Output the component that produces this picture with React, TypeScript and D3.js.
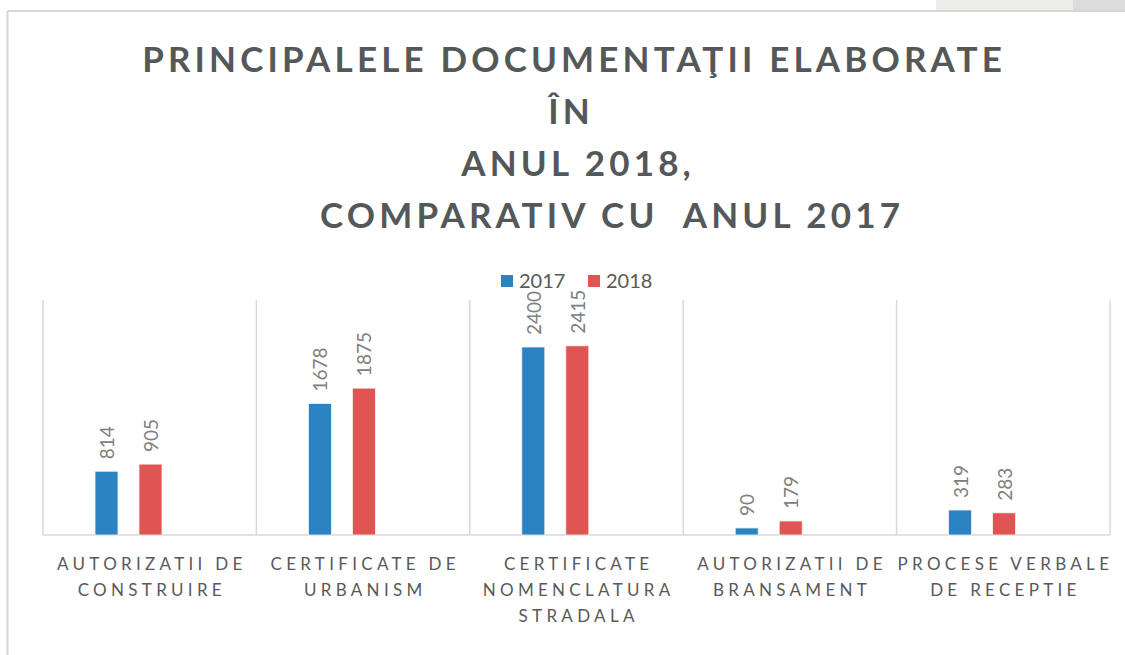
import React from "react";
import * as d3 from "d3";

const categories: string[][] = [
  ["AUTORIZATII DE", "CONSTRUIRE"],
  ["CERTIFICATE DE", "URBANISM"],
  ["CERTIFICATE", "NOMENCLATURA", "STRADALA"],
  ["AUTORIZATII DE", "BRANSAMENT"],
  ["PROCESE VERBALE", "DE RECEPTIE"],
];
const series = ["2017", "2018"];
const values2017 = [814, 1678, 2400, 90, 319];
const values2018 = [905, 1875, 2415, 179, 283];
const titleLines = [
  "PRINCIPALELE DOCUMENTAŢII ELABORATE",
  "ÎN",
  "ANUL 2018,",
  "COMPARATIV CU  ANUL 2017",
];
const colors = ["#2b83c2", "#e05454"];
const yMax = 3000;

// title layout (style): anchor & x of each line
const titleLayout: { anchor: "middle" | "end"; x: number }[] = [
  { anchor: "middle", x: 572 },
  { anchor: "middle", x: 569 },
  { anchor: "middle", x: 576 },
  { anchor: "end", x: 900 },
];

export default function App() {
  const W = 1125, H = 655;
  const plotLeft = 43, plotRight = 1110, plotTop = 300, plotBottom = 535;
  const x0 = d3
    .scaleBand<number>()
    .domain(categories.map((_, i) => i))
    .range([plotLeft, plotRight])
    .padding(0);
  const x1 = d3.scaleBand<string>().domain(series).range([52, 119]).paddingInner(0.477).paddingOuter(0);
  const y = d3.scaleLinear().domain([0, yMax]).range([plotBottom, plotTop]);
  const data = [values2017, values2018];
  const textColor = "#595959";
  const boundaries = categories.map((_, i) => x0(i)!).concat([plotRight]);
  const catLs = 4.3;
  const titleLs = 4.15;

  return (
    <svg width={W} height={H} style={{ position: "absolute", left: 0, top: 0, background: "#fff" }}>
      <rect x={0} y={0} width={W} height={H} fill="#fff" />
      <rect x={936} y={0} width={137} height={10} fill="#eeede9" />
      <rect x={1073} y={0} width={52} height={10} fill="#dcdcda" />
      <line x1={7.5} y1={11} x2={W} y2={11} stroke="#d6d6d6" strokeWidth={2} />
      <line x1={7.5} y1={11} x2={7.5} y2={H} stroke="#d6d6d6" strokeWidth={2} />

      <g fontFamily="Lato, 'Open Sans', sans-serif" fontWeight={700} fill="#545859" fontSize={35} letterSpacing={titleLs}>
        {titleLines.map((t, i) => {
          const L = titleLayout[i];
          const shift = L.anchor === "middle" ? titleLs / 2 : titleLs;
          return (
            <text key={i} x={L.x + shift} y={72 + i * 52} textAnchor={L.anchor} style={{ whiteSpace: "pre" }}>
              {t}
            </text>
          );
        })}
      </g>

      <g fontFamily="Lato, sans-serif" fontSize={20} fill={textColor}>
        {series.map((s, i) => {
          const lx = 501 + i * 87;
          return (
            <g key={s}>
              <rect x={lx} y={275} width={12} height={12} fill={colors[i]} />
              <text x={lx + 18} y={288}>{s}</text>
            </g>
          );
        })}
      </g>

      {boundaries.map((bx, i) => (
        <line key={i} x1={bx} y1={plotTop} x2={bx} y2={plotBottom} stroke="#d9d9d9" strokeWidth={1.5} />
      ))}
      <line x1={plotLeft} y1={plotBottom} x2={plotRight} y2={plotBottom} stroke="#d9d9d9" strokeWidth={1.5} />

      {categories.map((_, ci) => (
        <g key={ci}>
          {series.map((s, si) => {
            const v = data[si][ci];
            const bx = x0(ci)! + x1(s)!;
            const bw = x1.bandwidth();
            const top = y(v);
            const cx = bx + bw / 2;
            return (
              <g key={s}>
                <rect x={bx} y={top} width={bw} height={plotBottom - top} fill={colors[si]} stroke="#f4f4f4" strokeWidth={0.8} />
                <text
                  transform={`translate(${cx},${top - 12}) rotate(-90)`}
                  fontFamily="Lato, sans-serif"
                  fontSize={19}
                  fill="#808080"
                  dominantBaseline="central"
                  textAnchor="start"
                >
                  {v}
                </text>
              </g>
            );
          })}
        </g>
      ))}

      <g fontFamily="Lato, sans-serif" fontSize={17} fill={textColor} textAnchor="middle" letterSpacing={catLs}>
        {categories.map((lines, ci) => {
          const cx = x0(ci)! + x0.bandwidth() / 2 + catLs / 2;
          return (
            <text key={ci} x={cx}>
              {lines.map((l, li) => (
                <tspan key={li} x={cx} y={570 + li * 26}>
                  {l}
                </tspan>
              ))}
            </text>
          );
        })}
      </g>
    </svg>
  );
}
